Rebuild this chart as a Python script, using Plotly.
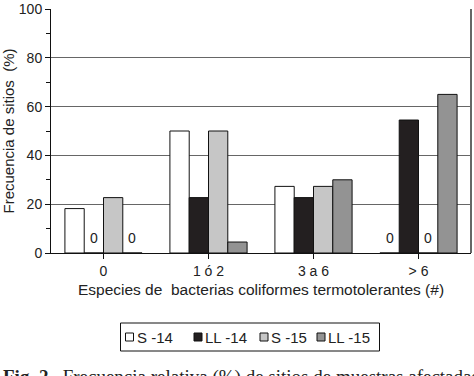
import plotly.graph_objects as go

categories = ["0", "1 ó 2", "3 a 6", "> 6"]
series_names = ["S -14", "LL -14", "S -15", "LL -15"]
s14 = [18.2, 50.0, 27.3, 0.0]
ll14 = [0.0, 22.7, 22.7, 54.5]
s15 = [22.7, 50.0, 27.3, 0.0]
ll15 = [0.0, 4.5, 30.0, 65.0]
series_values = [s14, ll14, s15, ll15]
colors = ["#ffffff", "#231f20", "#c6c6c6", "#939393"]

FONT = "Liberation Sans, Arial, sans-serif"
bargap = 0.265
W, H = 474, 376
ML, MR, MT, MB = 51, 3, 9, 123
PW, PH = W - ML - MR, H - MT - MB


def px2x(px):
    return (px - ML) / PW


def px2y(py):
    return (H - MB - py) / PH


fig = go.Figure()
for name, vals, col in zip(series_names, series_values, colors):
    fig.add_trace(go.Bar(
        x=list(range(len(categories))), y=vals, name=name, showlegend=False,
        marker=dict(color=col, line=dict(color="#111111", width=1)),
    ))

# "0" labels over empty bars
bw = (1 - bargap) / len(series_values)
for i, vals in enumerate(series_values):
    off = (i - (len(series_values) - 1) / 2) * bw
    for j, v in enumerate(vals):
        if v == 0:
            fig.add_annotation(x=j + off, y=v, text="0", showarrow=False,
                               yanchor="bottom", yshift=5,
                               font=dict(family=FONT, size=14, color="#222"))

# custom compact legend (box, swatches, labels)
fig.add_shape(type="rect", xref="paper", yref="paper",
              x0=px2x(120.5), x1=px2x(379.5), y0=px2y(351), y1=px2y(323),
              line=dict(color="#111", width=1), fillcolor="white")
leg_x = [125.5, 194, 260, 317]
for lx, name, col in zip(leg_x, series_names, colors):
    fig.add_shape(type="rect", xref="paper", yref="paper",
                  x0=px2x(lx), x1=px2x(lx + 8), y0=px2y(341), y1=px2y(333),
                  line=dict(color="#111", width=1), fillcolor=col)
    fig.add_annotation(xref="paper", yref="paper", x=px2x(lx + 9), y=px2y(337),
                       xanchor="left", yanchor="middle", showarrow=False, text=name,
                       font=dict(family=FONT, size=15, color="#222"))

fig.update_layout(
    width=W, height=H,
    margin=dict(l=ML, r=MR, t=MT, b=MB, autoexpand=False),
    paper_bgcolor="white", plot_bgcolor="white",
    barmode="group", bargap=bargap, bargroupgap=0,
    font=dict(family=FONT, size=14, color="#222"),
    showlegend=False,
)
fig.update_xaxes(
    tickmode="array", tickvals=list(range(len(categories))), ticktext=categories,
    range=[-0.5, len(categories) - 0.5],
    showline=True, linecolor="#111", linewidth=1,
    ticks="outside", ticklen=5, tickcolor="#111",
    showgrid=False, zeroline=False,
    title=dict(text="Especies de  bacterias coliformes termotolerantes (#)",
               font=dict(size=15.5), standoff=6),
)
fig.update_xaxes(tickson="boundaries")
fig.update_yaxes(
    range=[0, 100], tickvals=[0, 20, 40, 60, 80, 100],
    showline=True, linecolor="#111", linewidth=1,
    ticks="outside", ticklen=5, tickcolor="#111",
    minor=dict(dtick=10, ticks="outside", ticklen=4, tickcolor="#111", showgrid=False),
    showgrid=True, gridcolor="#666", gridwidth=1, zeroline=False,
    title=dict(text="Frecuencia de sitios  (%)", font=dict(size=15), standoff=4),
)
# right frame line
fig.add_shape(type="line", xref="paper", yref="paper", x0=1, x1=1, y0=0, y1=1,
              line=dict(color="#666", width=2))
# caption (cut off at the bottom of the image, as in the source)
fig.add_annotation(xref="paper", yref="paper", x=px2x(1), y=px2y(364), xanchor="left", yanchor="top",
                   showarrow=False, align="left",
                   text="<b>Fig. 2.</b>  Frecuencia relativa (%) de sitios de muestras afectadas",
                   font=dict(family="Liberation Serif, DejaVu Serif, serif", size=19, color="#222"))

fig.write_html("out.html", config={"displayModeBar": False},
               post_script="document.body.style.margin='0';")
